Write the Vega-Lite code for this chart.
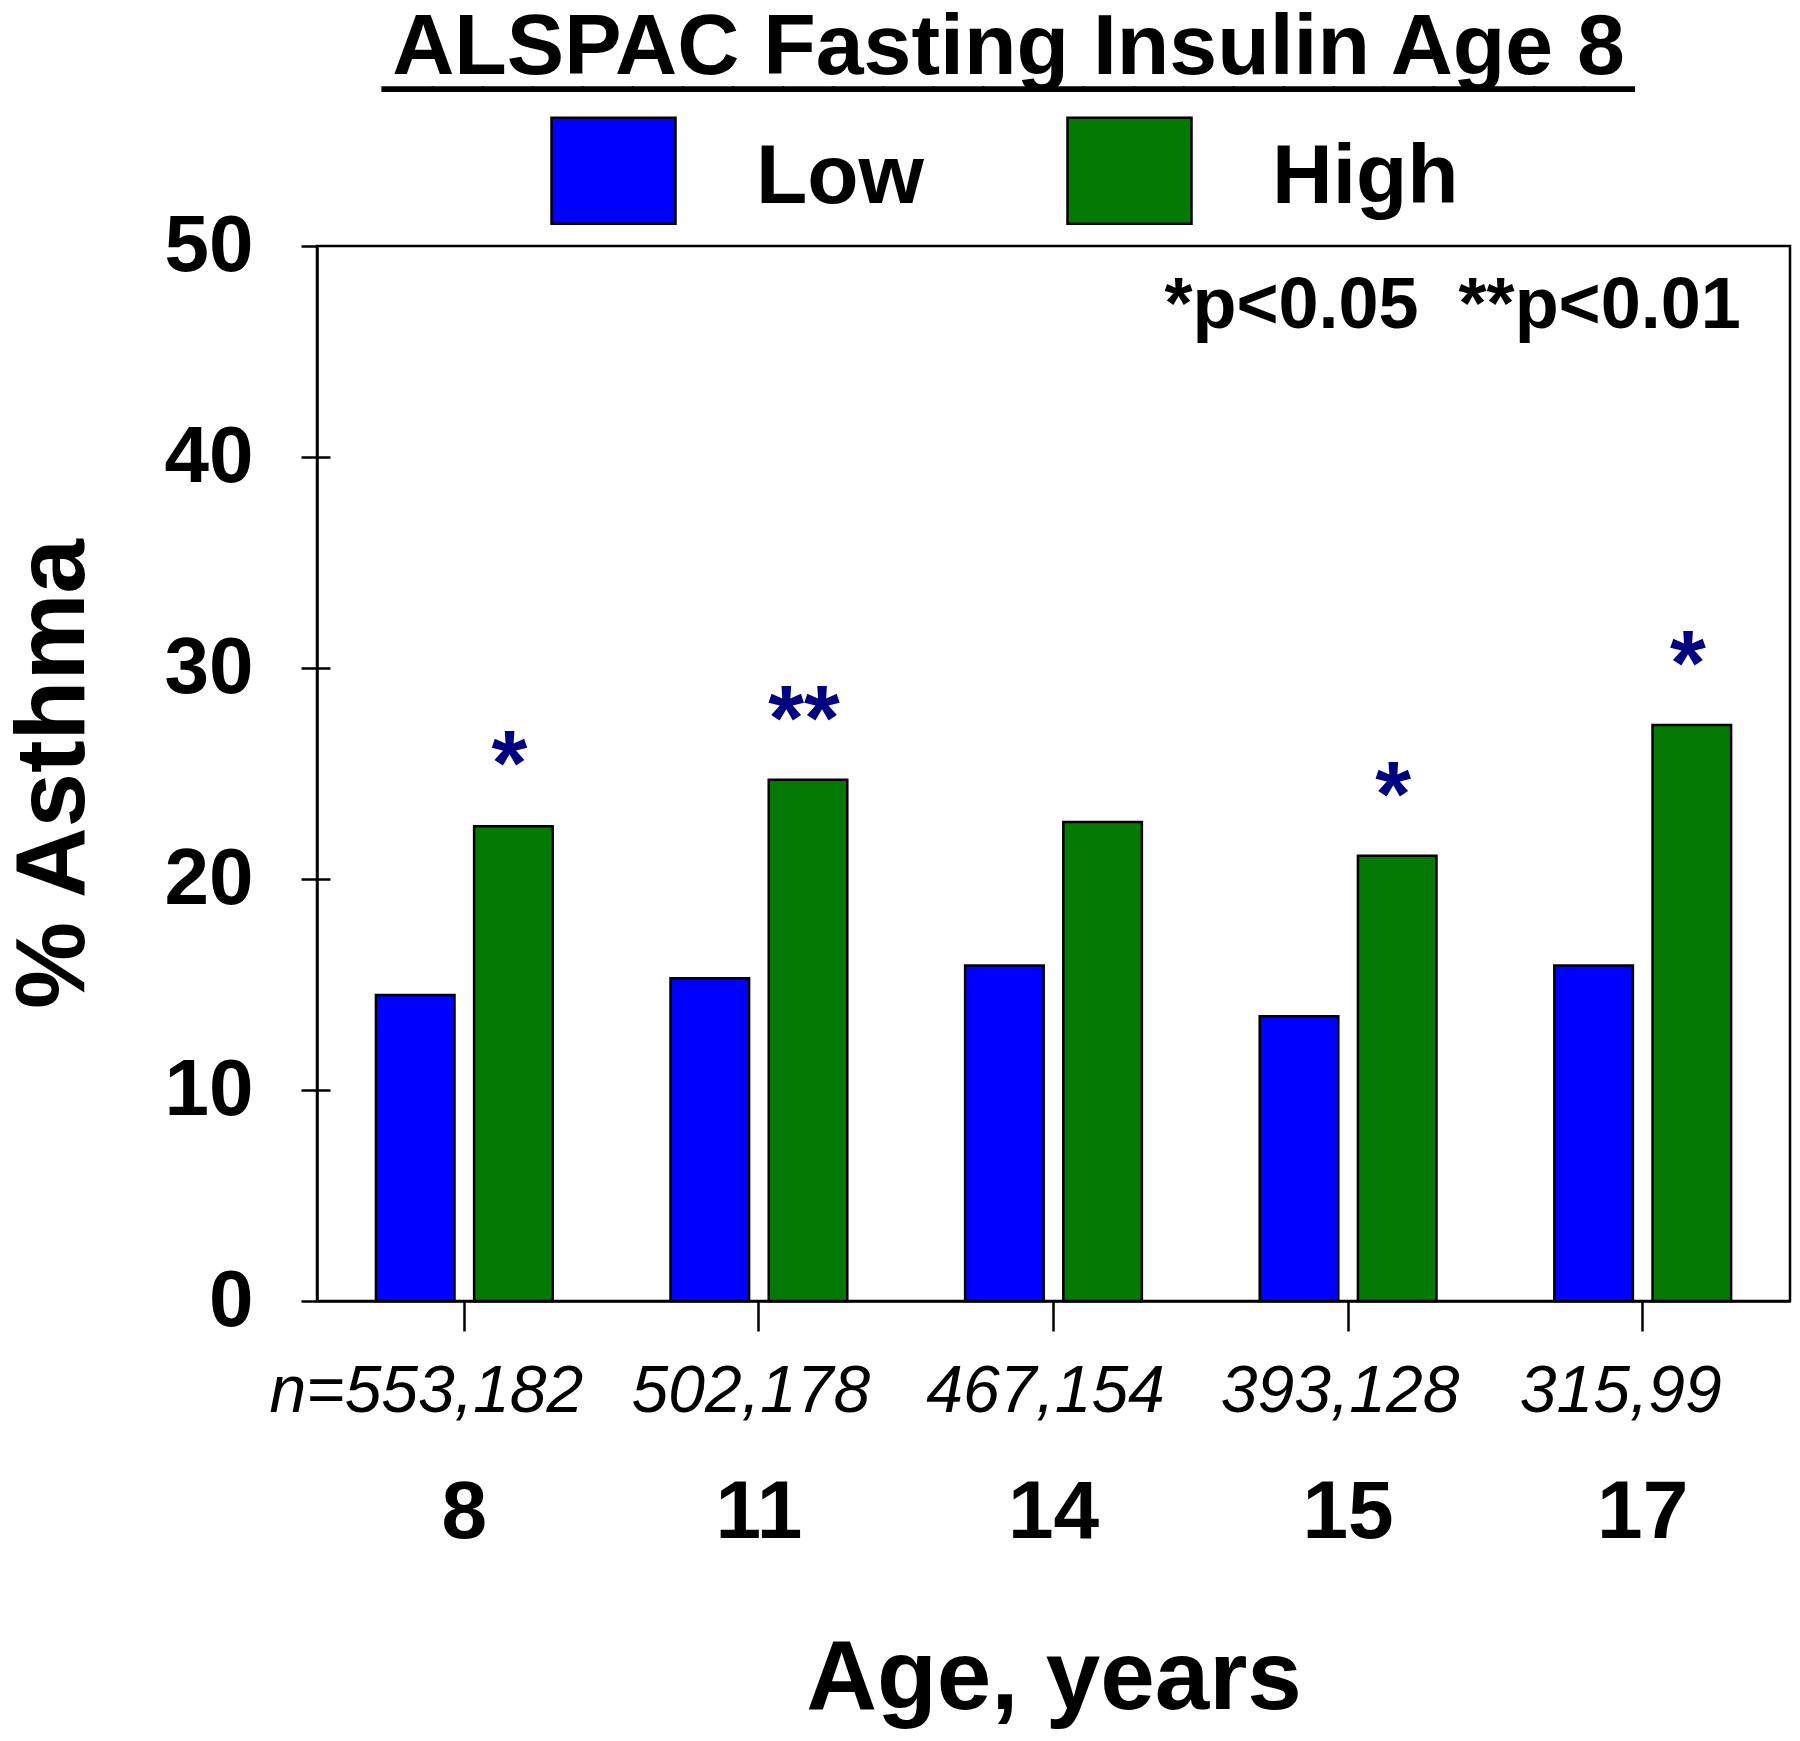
{
  "$schema": "https://vega.github.io/schema/vega-lite/v6.json",
  "width": 1473,
  "height": 1055,
  "autosize": {"type": "none"},
  "padding": {"left": 317, "top": 246, "right": 10, "bottom": 440},
  "background": "white",
  "config": {"font": "Liberation Sans", "view": {"stroke": "black", "strokeWidth": 2.5}},
  "title": {
    "text": "ALSPAC Fasting Insulin Age 8",
    "subtitle": "_________________________",
    "fontSize": 86,
    "fontWeight": "bold",
    "font": "Liberation Sans",
    "color": "black",
    "subtitleFontSize": 90,
    "subtitleColor": "black",
    "subtitleFont": "Liberation Sans",
    "subtitlePadding": -89,
    "anchor": "middle",
    "frame": "group",
    "dx": -45,
    "dy": -7,
    "offset": 20
  },
  "datasets": {
    "bars": [
      {"age": 8, "group": "Low", "pct": 14.5},
      {"age": 8, "group": "High", "pct": 22.5},
      {"age": 11, "group": "Low", "pct": 15.3},
      {"age": 11, "group": "High", "pct": 24.7},
      {"age": 14, "group": "Low", "pct": 15.9},
      {"age": 14, "group": "High", "pct": 22.7},
      {"age": 15, "group": "Low", "pct": 13.5},
      {"age": 15, "group": "High", "pct": 21.1},
      {"age": 17, "group": "Low", "pct": 15.9},
      {"age": 17, "group": "High", "pct": 27.3}
    ],
    "stars": [
      {"age": 8, "group": "High", "y": 24.0, "star": "*"},
      {"age": 11, "group": "High", "y": 26.1, "star": "**"},
      {"age": 15, "group": "High", "y": 22.5, "star": "*"},
      {"age": 17, "group": "High", "y": 28.7, "star": "*"}
    ],
    "note": [
      {"age": 17, "group": "High", "y": 46.1, "label": "*p<0.05\u00a0\u00a0**p<0.01"}
    ]
  },
  "layer": [
    {
      "data": {"name": "bars"},
      "mark": {"type": "bar", "stroke": "black", "strokeWidth": 2.5},
      "encoding": {
        "x": {
          "field": "age", "type": "ordinal",
          "scale": {"paddingInner": 0, "paddingOuter": 0},
          "axis": {
            "orient": "bottom",
            "title": "Age, years", "titleFontSize": 98, "titleFontWeight": "bold", "titleColor": "black", "titlePadding": 130,
            "labelFontSize": 82, "labelFontWeight": "bold", "labelColor": "black", "labelPadding": 141, "labelAngle": 0,
            "tickSize": 30, "tickWidth": 2.5, "tickColor": "black", "domainColor": "black", "domainWidth": 2.5
          }
        },
        "xOffset": {"field": "group", "type": "nominal", "sort": ["Low", "High"], "scale": {"paddingInner": 0.2, "paddingOuter": 0.6}},
        "y": {
          "field": "pct", "type": "quantitative",
          "scale": {"domain": [0, 50]},
          "axis": {
            "orient": "left",
            "title": "% Asthma", "titleFontSize": 98, "titleFontWeight": "bold", "titleColor": "black", "titlePadding": 60,
            "values": [0, 10, 20, 30, 40, 50],
            "labelFontSize": 80, "labelFontWeight": "bold", "labelColor": "black", "labelPadding": 48,
            "tickSize": 16, "tickWidth": 2.5, "tickColor": "black", "domainColor": "black", "domainWidth": 2.5, "grid": false
          }
        },
        "color": {
          "field": "group", "type": "nominal", "sort": ["Low", "High"],
          "scale": {"domain": ["Low", "High"], "range": ["#0000FF", "#047A04"]},
          "legend": {
            "orient": "none", "legendX": 242, "legendY": -123, "direction": "horizontal", "title": null,
            "symbolType": "M-1.17,-1.13L1.17,-1.13L1.17,0.87L-1.17,0.87Z", "symbolSize": 11236,
            "symbolStrokeColor": "black", "symbolStrokeWidth": 2.5, "symbolOpacity": 1,
            "labelFontSize": 84, "labelFontWeight": "bold", "labelColor": "black", "labelOffset": 88,
            "columnPadding": 138, "padding": 0, "labelLimit": 500
          }
        }
      }
    },
    {
      "data": {"name": "stars"},
      "mark": {"type": "text", "fontSize": 92, "fontWeight": "bold", "color": "#000080", "align": "center", "baseline": "alphabetic", "dx": -4},
      "encoding": {
        "x": {
          "field": "age", "type": "ordinal",
          "axis": {
            "orient": "bottom", "title": null, "domain": false, "ticks": false,
            "labelExpr": "{'8':'n=553,182','11':'502,178','14':'467,154','15':'393,128','17':'315,99'}[datum.label]",
            "labelFontSize": 66, "labelFontStyle": "italic", "labelFontWeight": "normal", "labelColor": "black",
            "labelPadding": 58, "labelAngle": 0, "labelLimit": 600,
            "labelOffset": {"condition": [{"test": "datum.value == 8", "value": -38}, {"test": "datum.value == 17", "value": -22}], "value": -8}
          }
        },
        "xOffset": {"field": "group", "type": "nominal", "sort": ["Low", "High"]},
        "y": {
          "field": "y", "type": "quantitative",
          "axis": {"orient": "left", "title": null, "labels": false, "domain": false, "tickSize": -13, "tickWidth": 2.5, "tickColor": "black", "values": [10, 20, 30, 40], "grid": false}
        },
        "text": {"field": "star"}
      }
    },
    {
      "data": {"name": "note"},
      "mark": {"type": "text", "fontSize": 72, "fontWeight": "bold", "color": "black", "align": "right", "baseline": "alphabetic", "dx": 49},
      "encoding": {
        "x": {"field": "age", "type": "ordinal", "axis": null},
        "xOffset": {"field": "group", "type": "nominal", "sort": ["Low", "High"]},
        "y": {"field": "y", "type": "quantitative", "axis": null},
        "text": {"field": "label"}
      }
    }
  ],
  "resolve": {"axis": {"x": "independent", "y": "independent"}}
}
